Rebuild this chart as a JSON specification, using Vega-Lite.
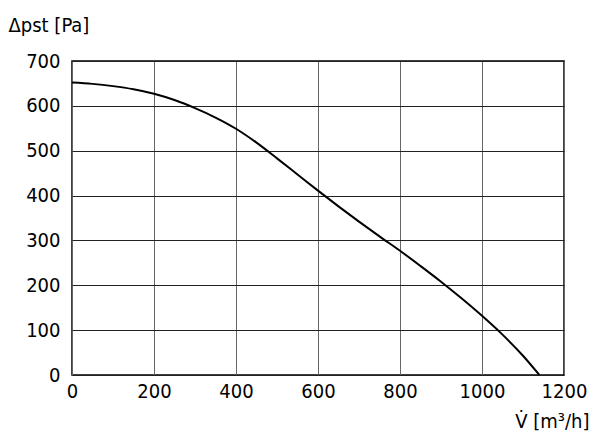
{
  "$schema": "https://vega.github.io/schema/vega-lite/v6.json",
  "width": 492,
  "height": 314,
  "autosize": {"type": "none"},
  "padding": {"left": 72, "top": 61, "right": 36, "bottom": 62},
  "background": "white",
  "data": {"values": [
    {"V": 0, "p": 652},
    {"V": 50, "p": 649},
    {"V": 100, "p": 644},
    {"V": 150, "p": 637},
    {"V": 200, "p": 627},
    {"V": 250, "p": 613},
    {"V": 300, "p": 595},
    {"V": 350, "p": 574},
    {"V": 400, "p": 549},
    {"V": 450, "p": 518},
    {"V": 500, "p": 483},
    {"V": 550, "p": 447},
    {"V": 600, "p": 411},
    {"V": 650, "p": 376},
    {"V": 700, "p": 342},
    {"V": 750, "p": 309},
    {"V": 800, "p": 277},
    {"V": 850, "p": 243},
    {"V": 900, "p": 208},
    {"V": 950, "p": 171},
    {"V": 1000, "p": 132},
    {"V": 1050, "p": 90},
    {"V": 1100, "p": 43},
    {"V": 1140, "p": 0}
  ]},
  "mark": {"type": "line", "color": "black", "strokeWidth": 2, "interpolate": "monotone"},
  "encoding": {
    "x": {"field": "V", "type": "quantitative",
      "scale": {"domain": [0, 1200], "nice": false},
      "axis": {"values": [0,200,400,600,800,1000,1200], "format": "d", "title": "V̇ [m³/h]",
        "titleX": 517, "titleY": 52, "titleAlign": "right", "titleBaseline": "alphabetic"}},
    "y": {"field": "p", "type": "quantitative",
      "scale": {"domain": [0, 700], "nice": false},
      "axis": {"values": [0,100,200,300,400,500,600,700], "format": "d", "title": "Δpst [Pa]",
        "titleAngle": 0, "titleX": -64, "titleY": -30, "titleAlign": "left", "titleBaseline": "alphabetic"}}
  },
  "config": {
    "font": "DejaVu Sans Condensed",
    "view": {"stroke": "black", "strokeWidth": 1.5},
    "axis": {
      "domain": false, "ticks": false,
      "grid": true, "gridWidth": 1, "gridOpacity": 1,
      "labelFont": "DejaVu Sans Condensed", "labelFontSize": 20, "labelColor": "black",
      "titleFont": "DejaVu Sans Condensed", "titleFontSize": 20, "titleColor": "black", "titleFontWeight": "normal"
    },
    "axisX": {"labelPadding": 6, "labelFlush": false, "gridColor": "#666"},
    "axisY": {"labelPadding": 12, "labelBaseline": "middle", "gridColor": "#222"}
  }
}
